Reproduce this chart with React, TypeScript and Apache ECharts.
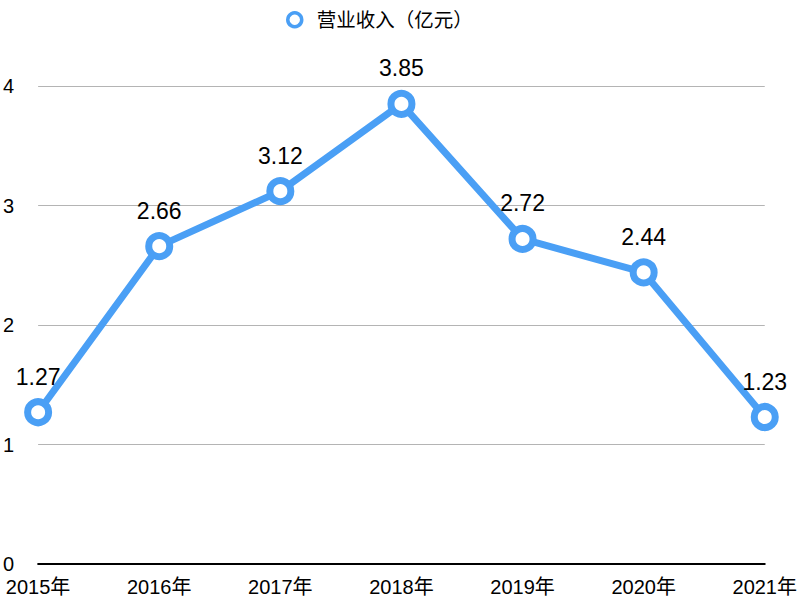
import React, { useEffect, useRef } from "react";
import * as echarts from "echarts";

const categories = ["2015年", "2016年", "2017年", "2018年", "2019年", "2020年", "2021年"];
const revenue = [1.27, 2.66, 3.12, 3.85, 2.72, 2.44, 1.23];
const seriesName = "营业收入（亿元）";
const blue = "#4a9ff5";
const font = "'Liberation Sans', Arial, 'Noto Sans CJK SC', sans-serif";

export default function App() {
  const ref = useRef<HTMLDivElement>(null);
  useEffect(() => {
    if (!ref.current) return;
    const chart = echarts.init(ref.current, null, { renderer: "svg" });
    chart.setOption({
      animation: false,
      textStyle: { fontFamily: font },
      legend: {
        top: 5,
        left: 281,
        icon: "circle",
        itemWidth: 14,
        itemHeight: 14,
        itemGap: 10,
        itemStyle: { color: "#fff", borderColor: blue, borderWidth: 3.5 },
        textStyle: { fontSize: 19.5, color: "#000", fontFamily: font, padding: [0, 0, 0, 10] },
        data: [seriesName],
      },
      grid: { left: 35, right: 33, top: 86, bottom: 36 },
      xAxis: {
        type: "category",
        data: categories,
        boundaryGap: false,
        axisLine: { lineStyle: { color: "#000", width: 2 } },
        axisTick: { show: false },
        axisLabel: { color: "#000", fontSize: 20, margin: 13, fontFamily: font },
        splitLine: { show: false },
      },
      yAxis: {
        type: "value",
        min: 0,
        max: 4,
        interval: 1,
        axisLine: { show: false },
        axisTick: { show: false },
        axisLabel: { color: "#000", fontSize: 20, margin: 24, align: "right", fontFamily: font },
        splitLine: { lineStyle: { color: "#b4b4b4", width: 1 } },
      },
      series: [
        {
          name: seriesName,
          type: "line",
          data: revenue,
          symbol: "circle",
          symbolSize: 21,
          lineStyle: { color: blue, width: 7 },
          itemStyle: { color: "#fff", borderColor: blue, borderWidth: 7 },
          label: {
            show: true,
            position: "top",
            distance: 10,
            color: "#000",
            fontSize: 23,
            fontFamily: font,
          },
          z: 3,
        },
      ],
    });
    return () => chart.dispose();
  }, []);
  return <div ref={ref} style={{ width: 800, height: 600, position: "absolute", left: 0, top: 0 }} />;
}
